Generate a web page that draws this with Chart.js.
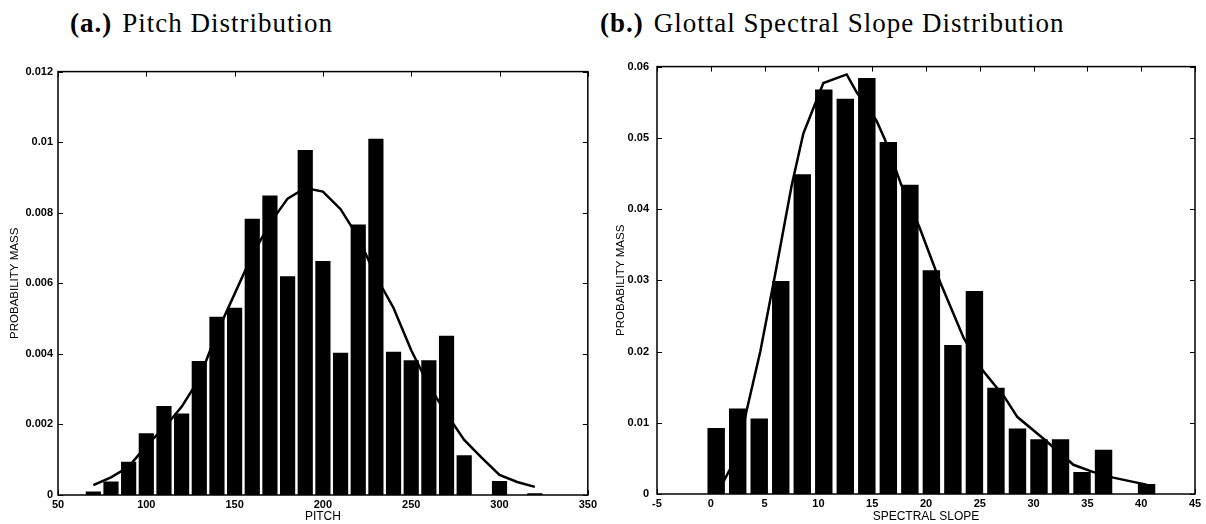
<!DOCTYPE html>
<html>
<head>
<meta charset="utf-8">
<script src="https://cdn.jsdelivr.net/npm/chart.js@4/dist/chart.umd.min.js"></script>
<style>
  body { margin: 0; background: #fff; width: 1206px; height: 524px; position: relative; overflow: hidden; }
  .ttl { position: absolute; top: 10px; font-family: "Liberation Serif", serif; font-size: 27px; letter-spacing: 1px; line-height: 1; color: #000; white-space: nowrap; }
  .ttl b { margin-right: 10px; }
  canvas { position: absolute; }
</style>
</head>
<body>
<div class="ttl" style="left:70px"><b>(a.)</b>Pitch Distribution</div>
<div class="ttl" style="left:600px"><b>(b.)</b>Glottal Spectral Slope Distribution</div>
<canvas id="pitchChart" width="600" height="464" style="left:0;top:60px"></canvas>
<canvas id="slopeChart" width="606" height="472" style="left:600px;top:52px"></canvas>
<script>
// (a.) pitch histogram, bin centres and probability mass
const pitchBins = [70, 80, 90, 100, 110, 120, 130, 140, 150, 160, 170, 180, 190, 200, 210, 220, 230, 240, 250, 260, 270, 280, 290, 300, 310, 320];
const pitchMass = [0.0001, 0.00038, 0.00094, 0.00175, 0.00252, 0.00231, 0.0038, 0.00505, 0.00531, 0.00783, 0.00849, 0.0062, 0.00978, 0.00663, 0.00403, 0.00767, 0.0101, 0.00406, 0.00382, 0.00382, 0.00451, 0.00113, 0, 0.0004, 0, 0.00005];
// fitted curve
const pitchCurveX = [70, 80, 90, 100, 110, 120, 130, 140, 150, 160, 170, 180, 190, 200, 210, 220, 230, 240, 250, 260, 270, 280, 290, 300, 310, 320];
const pitchCurveY = [0.00028, 0.0005, 0.0008, 0.0014, 0.0019, 0.0025, 0.0033, 0.0046, 0.0057, 0.0068, 0.0077, 0.0084, 0.0087, 0.0086, 0.0081, 0.0073, 0.0062, 0.0053, 0.0041, 0.0031, 0.0023, 0.00156, 0.00105, 0.00057, 0.00037, 0.00023];

// (b.) spectral slope histogram
const slopeBins = [0.5, 2.5, 4.5, 6.5, 8.5, 10.5, 12.5, 14.5, 16.5, 18.5, 20.5, 22.5, 24.5, 26.5, 28.5, 30.5, 32.5, 34.5, 36.5, 38.5, 40.5];
const slopeMass = [0.00925, 0.012, 0.0106, 0.0299, 0.0449, 0.0568, 0.0555, 0.0584, 0.0494, 0.0434, 0.0314, 0.0209, 0.0285, 0.0149, 0.0092, 0.0077, 0.0077, 0.0031, 0.0062, 0, 0.0014];
const slopeCurveX = [1.2, 2.5, 3.3, 4.6, 6.0, 7.5, 8.6, 10.46, 12.63, 13.56, 15.4, 16.2, 17.7, 19.4, 21.3, 23.5, 25.3, 27.3, 28.5, 30.9, 33.7, 35.5, 37.4, 39.6, 40.5];
const slopeCurveY = [0.0018, 0.0055, 0.0115, 0.02, 0.031, 0.0432, 0.0506, 0.0577, 0.0589, 0.0564, 0.0524, 0.0497, 0.0434, 0.0374, 0.0298, 0.0219, 0.0173, 0.0136, 0.0108, 0.0078, 0.0041, 0.0031, 0.0023, 0.0016, 0.0013];

const pts = (xs, ys) => xs.map((x, i) => ({ x: x, y: ys[i] }));

// matlab style box with inward ticks on every side
const boxTicks = {
  id: 'boxTicks',
  afterDatasetsDraw(chart) {
    const { ctx, chartArea: a, scales: { x, y } } = chart;
    ctx.save();
    ctx.strokeStyle = '#000';
    ctx.lineWidth = 1.5;
    ctx.strokeRect(a.left, a.top, a.right - a.left, a.bottom - a.top);
    ctx.lineWidth = 1;
    ctx.beginPath();
    x.ticks.forEach(t => {
      const px = Math.round(x.getPixelForValue(t.value)) + 0.5;
      ctx.moveTo(px, a.bottom); ctx.lineTo(px, a.bottom - 5);
      ctx.moveTo(px, a.top); ctx.lineTo(px, a.top + 5);
    });
    y.ticks.forEach(t => {
      const py = Math.round(y.getPixelForValue(t.value)) + 0.5;
      ctx.moveTo(a.left, py); ctx.lineTo(a.left + 5, py);
      ctx.moveTo(a.right, py); ctx.lineTo(a.right - 5, py);
    });
    ctx.stroke();
    ctx.restore();
  }
};

const tickFont = { family: '"Liberation Sans", Arial, sans-serif', size: 11, weight: 'bold' };
const xTitleFont = { family: '"Liberation Sans", Arial, sans-serif', size: 12 };
const yTitleFont = { family: '"Liberation Sans", Arial, sans-serif', size: 11.5 };

function histChart(id, bins, mass, cx, cy, o) {
  return new Chart(document.getElementById(id), {
    type: 'bar',
    data: {
      datasets: [
        { type: 'line', data: pts(cx, cy), borderColor: '#000', borderWidth: 2.5, pointRadius: 0, tension: 0, fill: false },
        { data: pts(bins, mass), backgroundColor: '#000', barPercentage: o.barPct, categoryPercentage: 1 }
      ]
    },
    options: {
      responsive: false,
      devicePixelRatio: 1,
      animation: false,
      layout: { padding: { top: 11, right: o.padRight, left: 0, bottom: 0 } },
      plugins: { legend: { display: false }, tooltip: { enabled: false } },
      scales: {
        x: {
          type: 'linear', offset: false, min: o.xMin, max: o.xMax,
          grid: { display: false, offset: false, drawTicks: false }, border: { display: false },
          ticks: { stepSize: o.xStep, color: '#000', font: tickFont, padding: 3, maxRotation: 0 },
          title: { display: true, text: o.xTitle, color: '#000', font: xTitleFont, padding: { top: o.xTitlePad, bottom: 0 } },
          afterFit(s) { s.height = o.xHeight; }
        },
        y: {
          min: 0, max: o.yMax,
          grid: { display: false, drawTicks: false }, border: { display: false },
          ticks: { stepSize: o.yStep, color: '#000', font: tickFont, padding: o.yPad, callback: v => String(+v.toFixed(4)) },
          title: { display: true, text: 'PROBABILITY MASS', color: '#000', font: yTitleFont, padding: { top: o.yTitlePad, bottom: 0 } },
          afterFit(s) { s.width = o.yWidth; }
        }
      }
    },
    plugins: [boxTicks]
  });
}

histChart('pitchChart', pitchBins, pitchMass, pitchCurveX, pitchCurveY, {
  barPct: 0.86, padRight: 10, xMin: 50, xMax: 350, xStep: 50, xTitle: 'PITCH', xTitlePad: 3, xHeight: 29,
  yMax: 0.012, yStep: 0.002, yPad: 5, yTitlePad: 8, yWidth: 58
});

histChart('slopeChart', slopeBins, slopeMass, slopeCurveX, slopeCurveY, {
  barPct: 0.81, padRight: 11, xMin: -5, xMax: 45, xStep: 5, xTitle: 'SPECTRAL SLOPE', xTitlePad: 1, xHeight: 30,
  yMax: 0.06, yStep: 0.01, yPad: 8, yTitlePad: 14, yWidth: 57
});
</script>
</body>
</html>
